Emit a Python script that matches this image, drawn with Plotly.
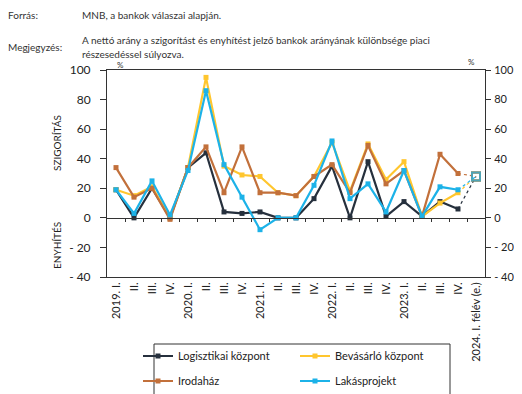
import plotly.graph_objects as go

categories = ["2019. I.", "II.", "III.", "IV.",
              "2020. I.", "II.", "III.", "IV.",
              "2021. I.", "II.", "III.", "IV.",
              "2022. I.", "II.", "III.", "IV.",
              "2023. I.", "II.", "III.", "IV.",
              "2024. I. félév (e.)"]

logisztikai = [19, 0, 20, 0, 34, 44, 4, 3, 4, 0, 0, 13, 35, 0, 38, 1, 11, 1, 11, 6]
bevasarlo   = [19, 15, 21, 0, 34, 95, 35, 29, 28, 17, 15, 28, 51, 18, 50, 26, 38, 1, 10, 17]
irodahaz    = [34, 14, 20, -1, 34, 48, 17, 48, 17, 17, 15, 28, 36, 17, 49, 23, 32, 1, 43, 30]
lakas       = [19, 3, 25, 2, 32, 86, 36, 14, -8, 0, 0, 22, 52, 13, 23, 4, 32, 1, 21, 19]

forecast_2024 = {"Logisztikai központ": 28, "Bevásárló központ": 28,
                 "Irodaház": 28, "Lakásprojekt": 28}

y_ticks = [-40, -20, 0, 20, 40, 60, 80, 100]
y_ticktext = ["-\u2009\u200940", "-\u2009\u200920", "0", "20", "40", "60", "80", "100"]

series = [
    ("Logisztikai központ", logisztikai, "#26303d", "legend"),
    ("Bevásárló központ", bevasarlo, "#ffc62e", "legend"),
    ("Irodaház", irodahaz, "#c2703b", "legend2"),
    ("Lakásprojekt", lakas, "#1cb2e8", "legend2"),
]

FONT = "Lato"
n = len(categories)
xs = list(range(n))

# page body has an 8px margin: work in screen pixels, convert to figure pixels
OFF = 8
W, H = 522 - OFF, 394 - OFF
# plot area in screen pixels
L, R, T, B = 107, 485, 70, 277


def px(x):
    return (x - L) / (R - L)


def py(y):
    return (B - y) / (B - T)


fig = go.Figure()

# forecast dotted connectors (drawn first, underneath)
for name, vals, color, lg in series:
    fig.add_trace(go.Scatter(
        x=[xs[n - 2], xs[n - 1]], y=[vals[-1], forecast_2024[name]],
        mode="lines+markers",
        line=dict(color=color, width=1.2, dash="dot"),
        marker=dict(symbol="square-open", size=[0, 8], color=color,
                    line=dict(width=2, color=color)),
        showlegend=False, hoverinfo="skip"))

for name, vals, color, lg in series:
    fig.add_trace(go.Scatter(
        x=xs[:len(vals)], y=vals, name=name, mode="lines+markers",
        line=dict(color=color, width=2.2),
        marker=dict(symbol="square", size=5, color=color),
        legend=lg))

# dummy traces so the secondary axes render
fig.add_trace(go.Scatter(x=[xs[0], xs[-1]], y=[None, None], xaxis="x2",
                         showlegend=False, hoverinfo="skip"))
fig.add_trace(go.Scatter(x=[xs[0], xs[-1]], y=[None, None], yaxis="y2",
                         showlegend=False, hoverinfo="skip"))

axis_col = "#333333"
tickfont = dict(family=FONT, size=12, color="#222222")
tickfont_r = dict(family=FONT, size=11, color="#222222")
rng = [-0.5, n - 0.5]
yr = [-40, 100]

legend_common = dict(orientation="h", xref="container", yref="container",
                     xanchor="left", yanchor="middle", entrywidth=112,
                     entrywidthmode="pixels",
                     font=dict(family=FONT, size=11, color="#222222"),
                     bgcolor="rgba(0,0,0,0)", itemwidth=30, tracegroupgap=0)

fig.update_layout(
    width=W, height=H,
    margin=dict(l=L - OFF, r=W - (R - OFF), t=T - OFF, b=H - (B - OFF),
                pad=0, autoexpand=False),
    paper_bgcolor="white", plot_bgcolor="white",
    font=dict(family=FONT, color="#222222"),
    xaxis=dict(range=rng, tickvals=xs, ticktext=categories, tickangle=-90,
               showline=True, mirror=True, linecolor=axis_col, linewidth=1,
               ticks="", showgrid=False, zeroline=False, automargin=False,
               tickfont=dict(family=FONT, size=11, color="#222222")),
    xaxis2=dict(range=rng, overlaying="x", anchor="free",
                position=(0 - yr[0]) / (yr[1] - yr[0]),
                tickvals=[i - 0.5 for i in xs[1:]], ticks="outside", ticklen=3,
                tickcolor=axis_col, showticklabels=False, showline=True,
                linecolor=axis_col, linewidth=1, showgrid=False,
                zeroline=False, automargin=False),
    yaxis=dict(range=yr, tickvals=y_ticks, ticktext=y_ticktext,
               ticks="outside", ticklen=6, tickcolor=axis_col,
               showline=True, linecolor=axis_col, linewidth=1,
               showgrid=False, zeroline=False, tickfont=tickfont,
               ticklabelstandoff=7, automargin=False),
    yaxis2=dict(range=yr, tickvals=y_ticks, ticktext=y_ticktext, overlaying="y",
                side="right", ticks="outside", ticklen=5, tickcolor=axis_col,
                showline=True, linecolor=axis_col, linewidth=1,
                showgrid=False, zeroline=False, tickfont=tickfont_r,
                ticklabelstandoff=1, automargin=False),
    legend=dict(x=(138 - OFF) / W, y=1 - (356 - OFF) / H, **legend_common),
    legend2=dict(x=(138 - OFF) / W, y=1 - (381 - OFF) / H, **legend_common),
    showlegend=True,
)

fig.add_shape(type="rect", xref="paper", yref="paper",
              x0=px(154), x1=px(450), y0=py(400), y1=py(344),
              line=dict(color="#333333", width=1), fillcolor="rgba(0,0,0,0)")

ann_font = dict(family=FONT, size=10, color="#333333")
annotations = [
    dict(text="Forrás:", x=px(6), y=py(15), xanchor="left", font=ann_font),
    dict(text="MNB, a bankok válaszai alapján.", x=px(80), y=py(15),
         xanchor="left", font=ann_font),
    dict(text="Megjegyzés:", x=px(6), y=py(47), xanchor="left", font=ann_font),
    dict(text="A nettó arány a szigorítást és enyhítést jelző bankok arányának különbsége piaci",
         x=px(80), y=py(40), xanchor="left", font=ann_font),
    dict(text="részesedéssel súlyozva.", x=px(80), y=py(54), xanchor="left",
         font=ann_font),
    dict(text="%", x=px(120), y=py(64.5), xanchor="center",
         font=dict(family=FONT, size=8, color="#333333")),
    dict(text="%", x=px(471), y=py(62), xanchor="center",
         font=dict(family=FONT, size=8, color="#333333")),
    dict(text="SZIGORÍTÁS", x=px(57), y=py(143), textangle=-90,
         font=dict(family=FONT, size=10, color="#222222")),
    dict(text="ENYHÍTÉS", x=px(57), y=py(246), textangle=-90,
         font=dict(family=FONT, size=10, color="#222222")),
]
for a in annotations:
    a.update(xref="paper", yref="paper", showarrow=False, yanchor="middle")
    if "xanchor" not in a:
        a["xanchor"] = "center"
fig.update_layout(annotations=annotations)

fig.write_html("out.html")
